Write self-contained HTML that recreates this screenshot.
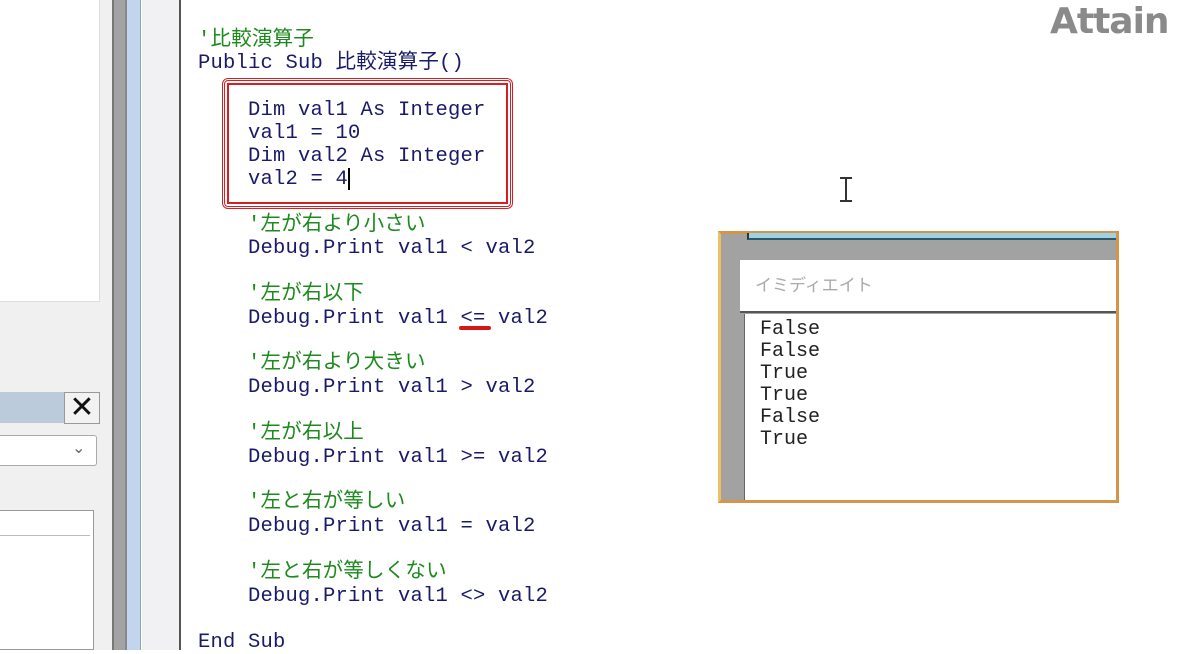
<!DOCTYPE html>
<html><head><meta charset="utf-8"><style>
body{margin:0;width:1200px;height:650px;overflow:hidden;background:#fff;position:relative;font-family:"Liberation Mono","Noto Sans CJK JP",monospace;}
div{position:absolute;box-sizing:border-box;}
.l{font-size:20.5px;line-height:23px;white-space:pre;color:#1a1a6a;letter-spacing:0.2px;}
.c{color:#1c8a1c;}
.o{font-size:20px;line-height:22px;white-space:pre;color:#222;}
</style></head><body>
<div style="left:0;top:0;width:112px;height:650px;background:#f0f0f0"></div>
<div style="left:0;top:0;width:100px;height:302px;background:#fff;border-right:1px solid #ddd;border-bottom:1px solid #ddd"></div>
<div style="left:0;top:392px;width:100px;height:31px;background:#bccbdc"></div>
<div style="left:64px;top:392px;width:36px;height:32px;background:#f2f2f2;border:1px solid #999;font:30px/30px 'DejaVu Sans',sans-serif;text-align:center;color:#111">✕</div>
<div style="left:0;top:435px;width:97px;height:31px;background:#fff;border:1px solid #aaa;border-left:none;border-radius:0 3px 3px 0"></div>
<div style="left:72px;top:438px;font:16px/20px 'DejaVu Sans',sans-serif;color:#666">⌄</div>
<div style="left:0;top:510px;width:94px;height:140px;background:#fff;border:1px solid #999;border-left:none"></div>
<div style="left:0;top:512px;width:90px;height:24px;border-bottom:1px solid #bbb"></div>
<div style="left:112px;top:0;width:15px;height:650px;background:#a3a3a3;border-left:2px solid #777;border-right:2px solid #888"></div>
<div style="left:127px;top:0;width:14px;height:650px;background:#c2d5ec;border-right:1px solid #8aa"></div>
<div style="left:142px;top:0;width:38px;height:650px;background:#f1f1f4"></div>
<div style="left:179px;top:0;width:2px;height:650px;background:#555"></div>
<div style="left:1050px;top:0px;font:bold 36px/44px 'DejaVu Sans',sans-serif;color:#8a8a8a;letter-spacing:-1px">Attain</div>
<div class="l c" style="left:198px;top:29px">'比較演算子</div>
<div class="l" style="left:198px;top:52px">Public Sub 比較演算子()</div>
<div style="left:222px;top:78px;width:291px;height:131px;border:3px double #d42020;border-radius:6px"></div>
<div style="left:227px;top:83px;width:281px;height:121px;border:2px solid #d42020"></div>
<div class="l" style="left:248px;top:99px">Dim val1 As Integer
val1 = 10
Dim val2 As Integer
val2 = 4</div>
<div style="left:348px;top:168px;width:2px;height:22px;background:#000"></div>
<div class="l c" style="left:248px;top:214px">'左が右より小さい</div>
<div class="l" style="left:248px;top:237px">Debug.Print val1 &lt; val2</div>
<div class="l c" style="left:248px;top:283px">'左が右以下</div>
<div class="l" style="left:248px;top:307px">Debug.Print val1 &lt;= val2</div>
<div style="left:459px;top:326px;width:32px;height:4px;background:#d41818;border-radius:2px"></div>
<div class="l c" style="left:248px;top:352px">'左が右より大きい</div>
<div class="l" style="left:248px;top:376px">Debug.Print val1 &gt; val2</div>
<div class="l c" style="left:248px;top:422px">'左が右以上</div>
<div class="l" style="left:248px;top:446px">Debug.Print val1 &gt;= val2</div>
<div class="l c" style="left:248px;top:491px">'左と右が等しい</div>
<div class="l" style="left:248px;top:515px">Debug.Print val1 = val2</div>
<div class="l c" style="left:248px;top:561px">'左と右が等しくない</div>
<div class="l" style="left:248px;top:585px">Debug.Print val1 &lt;&gt; val2</div>
<div class="l" style="left:198px;top:631px">End Sub</div>
<div style="left:845px;top:178px;width:2px;height:23px;background:#333"></div>
<div style="left:840px;top:177px;width:12px;height:2px;background:#333"></div>
<div style="left:840px;top:200px;width:12px;height:2px;background:#333"></div>
<div style="left:718px;top:231px;width:401px;height:272px;background:#a2a2a2;border:3px solid #d3954a;border-left-color:#f0c060"></div>
<div style="left:747px;top:233px;width:369px;height:7px;background:#9fd0e4;border-left:2px solid #333;border-bottom:2px solid #2a5a6a"></div>
<div style="left:740px;top:260px;width:376px;height:53px;background:#fff;border-bottom:2px solid #555"></div>
<div style="left:755px;top:272px;font:17px/24px 'Noto Sans CJK JP',sans-serif;color:#aaa">イミディエイト</div>
<div style="left:744px;top:314px;width:372px;height:186px;background:#fff;border-left:1px solid #666"></div>
<div class="o" style="left:760px;top:319px">False
False
True
True
False
True</div>
</body></html>
